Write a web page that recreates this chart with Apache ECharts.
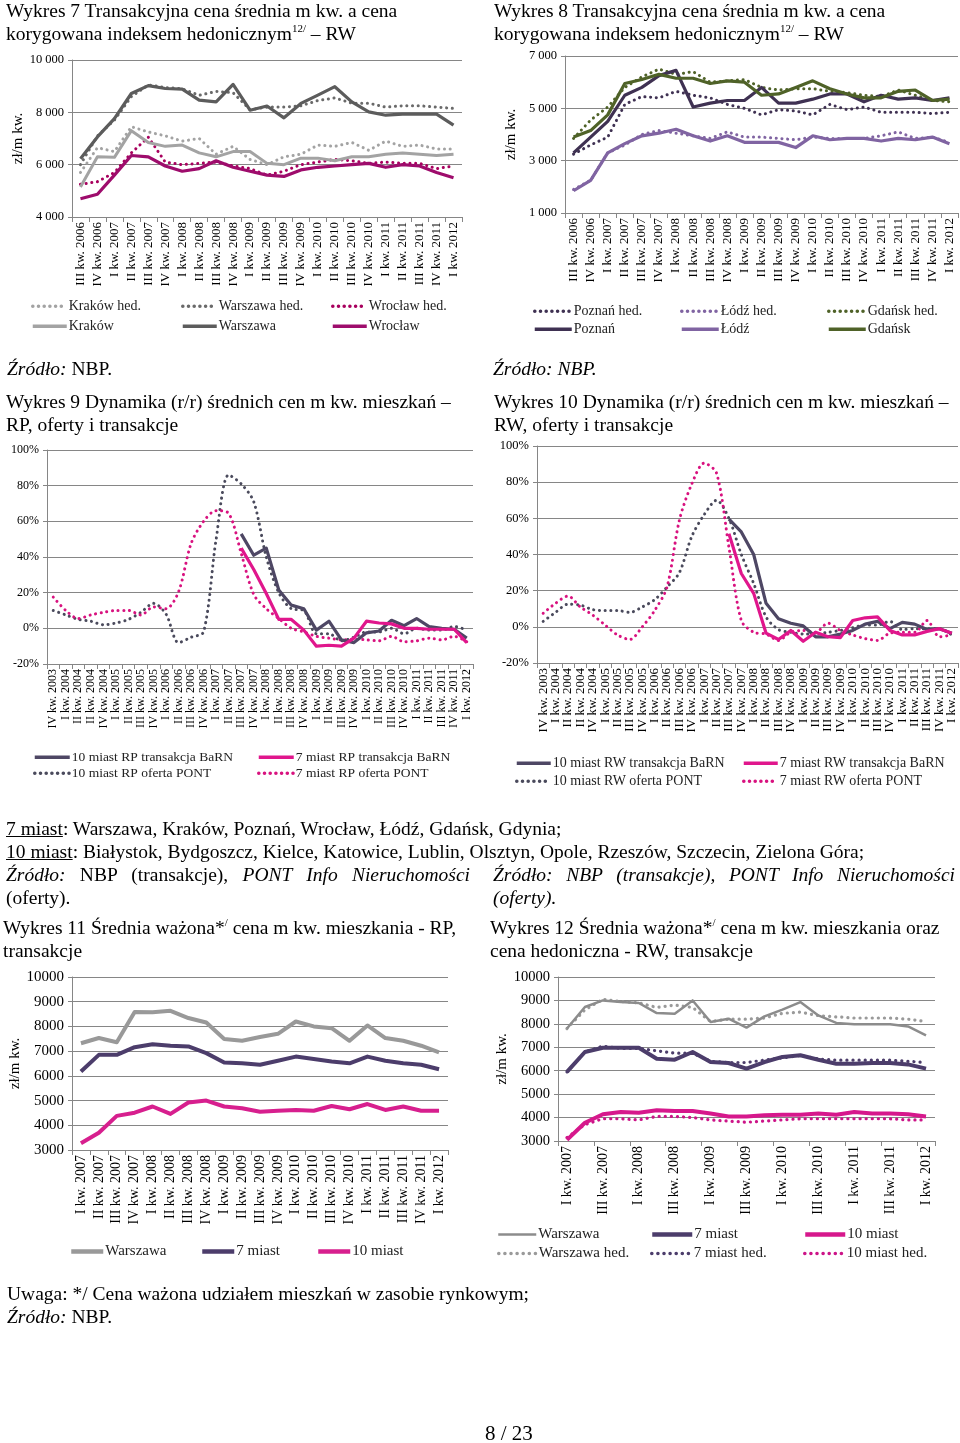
<!DOCTYPE html>
<html><head><meta charset="utf-8">
<script src="https://cdn.jsdelivr.net/npm/echarts@6/dist/echarts.min.js"></script>
<style>
html,body{margin:0;padding:0;background:#fff;}
#page{position:relative;width:960px;height:1443px;overflow:hidden;font-family:"Liberation Serif","Times New Roman",serif;color:#000;}
#chart{position:absolute;left:0;top:0;width:960px;height:1443px;}
.t{position:absolute;font-size:19.5px;line-height:23px;white-space:nowrap;}
.t sup{font-size:11px;line-height:0;vertical-align:8px;}
.j{white-space:normal;text-align:justify;text-align-last:justify;}
i{font-style:italic;}
</style></head>
<body><div id="page"><div id="chart"></div>
<div class="t" style="left:6px;top:-1px">Wykres 7 Transakcyjna cena średnia m kw. a cena<br>korygowana indeksem hedonicznym<sup>12/</sup> – RW</div>
<div class="t" style="left:494px;top:-1px">Wykres 8 Transakcyjna cena średnia m kw. a cena<br>korygowana indeksem hedonicznym<sup>12/</sup> – RW</div>
<div class="t" style="left:7px;top:357px"><i>Źródło:</i> NBP.</div>
<div class="t" style="left:493px;top:357px"><i>Źródło: NBP.</i></div>
<div class="t" style="left:6px;top:390px">Wykres 9 Dynamika (r/r) średnich cen m kw. mieszkań –<br>RP, oferty i transakcje</div>
<div class="t" style="left:494px;top:390px">Wykres 10 Dynamika (r/r) średnich cen m kw. mieszkań –<br>RW, oferty i transakcje</div>
<div class="t" style="left:6px;top:817px"><u>7 miast</u>: Warszawa, Kraków, Poznań, Wrocław, Łódź, Gdańsk, Gdynia;</div>
<div class="t" style="left:6px;top:840px"><u>10 miast</u>: Białystok, Bydgoszcz, Kielce, Katowice, Lublin, Olsztyn, Opole, Rzeszów, Szczecin, Zielona Góra;</div>
<div class="t j" style="left:6px;top:863px;width:464px"><i>Źródło:</i> NBP (transakcje), <i>PONT Info Nieruchomości</i></div>
<div class="t" style="left:6px;top:886px">(oferty).</div>
<div class="t j" style="left:493px;top:863px;width:462px"><i>Źródło: NBP (transakcje), PONT Info Nieruchomości</i></div>
<div class="t" style="left:493px;top:886px"><i>(oferty).</i></div>
<div class="t" style="left:3px;top:916px">Wykres 11 Średnia ważona*<sup>/</sup> cena m kw. mieszkania - RP,<br>transakcje</div>
<div class="t" style="left:490px;top:916px">Wykres 12 Średnia ważona*<sup>/</sup> cena m kw. mieszkania oraz<br>cena hedoniczna - RW, transakcje</div>
<div class="t" style="left:7px;top:1282px">Uwaga: */ Cena ważona udziałem mieszkań w zasobie rynkowym;<br><i>Źródło:</i> NBP.</div>
<div class="t" style="left:485px;top:1422px;font-size:21px">8 / 23</div>
</div>
<script>
// ---------- categories ----------
const cats7 = ['III kw. 2006','IV kw. 2006','I kw. 2007','II kw. 2007','III kw. 2007','IV kw. 2007','I kw. 2008','II kw. 2008','III kw. 2008','IV kw. 2008','I kw. 2009','II kw. 2009','III kw. 2009','IV kw. 2009','I kw. 2010','II kw. 2010','III kw. 2010','IV kw. 2010','I kw. 2011','II kw. 2011','III kw. 2011','IV kw. 2011','I kw. 2012'];
const cats9 = ['IV kw. 2003','I kw. 2004','II kw. 2004','II kw. 2004','IV kw. 2004','I kw. 2005','II kw. 2005','III kw. 2005','IV kw. 2005','I kw. 2006','II kw. 2006','III kw. 2006','IV kw. 2006','I kw. 2007','II kw. 2007','III kw. 2007','IV kw. 2007','I kw. 2008','II kw. 2008','III kw. 2008','IV kw. 2008','I kw. 2009','II kw. 2009','III kw. 2009','IV kw. 2009','I kw. 2010','II kw. 2010','III kw. 2010','IV kw. 2010','I kw. 2011','II kw. 2011','III kw. 2011','IV kw. 2011','I kw. 2012'];
const cats11 = ['I kw. 2007','II kw. 2007','III kw. 2007','IV kw. 2007','I kw. 2008','II kw. 2008','III kw. 2008','IV kw. 2008','I kw. 2009','II kw. 2009','III kw. 2009','IV kw. 2009','I kw. 2010','II kw. 2010','III kw. 2010','IV kw. 2010','I kw. 2011','II kw. 2011','III kw. 2011','IV kw. 2011','I kw. 2012'];

// ---------- Wykres 7 ----------
const krakowHed7 = [5700,6650,6500,7450,7250,7100,6900,7000,6400,6700,6200,6000,6300,6400,6750,6700,6850,6550,6900,6700,6750,6600,6600];
const warszawaHed7 = [6000,7100,7700,8600,9050,8950,8900,8650,8800,8750,8100,8200,8200,8250,8450,8550,8350,8350,8200,8250,8250,8200,8150];
const wroclawHed7 = [5250,5350,5700,6450,7050,6100,6000,6050,6100,5950,5850,5600,5750,6000,6100,6200,6150,6050,6100,6050,6050,5850,5950];
const krakow7 = [5150,6300,6280,7300,6850,6700,6750,6450,6300,6500,6500,6050,6000,6250,6250,6150,6300,6300,6400,6450,6400,6350,6400];
const warszawa7 = [6230,7060,7760,8720,9020,8910,8890,8470,8400,9070,8080,8240,7790,8340,8660,8980,8400,8020,7890,7930,7930,7930,7510];
const wroclaw7 = [4700,4870,5600,6350,6300,5950,5750,5850,6150,5900,5750,5600,5550,5800,5900,5950,6000,6050,5900,6000,5950,5700,5500];

// ---------- Wykres 8 ----------
const poznanHed8 = [3250,3600,3900,5150,5450,5400,5650,5500,5400,5150,5000,4750,4950,4900,4750,5150,4950,5050,4850,4850,4850,4800,4850];
const lodzHed8 = [1900,2250,3300,3600,4000,4150,4050,3950,3850,4100,3900,3900,3850,3800,3900,3850,3850,3850,3950,4100,3850,3900,3700];
const gdanskHed8 = [3850,4550,5050,5800,6200,6500,6300,6400,6000,6050,6100,5800,5700,5750,5750,5650,5600,5500,5450,5700,5500,5300,5250];
const poznan8 = [3300,3900,4500,5500,5800,6250,6450,5050,5200,5300,5300,5800,5200,5200,5350,5550,5550,5250,5500,5350,5400,5300,5400];
const lodz8 = [1850,2250,3300,3650,3950,4050,4200,3950,3750,3950,3700,3700,3700,3500,3950,3800,3850,3850,3750,3850,3800,3900,3650];
const gdansk8 = [3900,4150,4750,5950,6100,6300,6150,6150,5950,6050,6000,5500,5550,5800,6050,5750,5550,5400,5400,5650,5700,5300,5350];

// ---------- Wykres 9 (%) ----------
const trans10_9 = [null,null,null,null,null,null,null,null,null,null,null,null,null,null,null,53,41,45,21.5,13,11,-1,4,-6.5,-8,-2.5,-1.5,4.5,1.5,5.5,1,0,-0.5,-5.5];
const trans7_9 = [null,null,null,null,null,null,null,null,null,null,null,null,null,null,null,45,33,19.5,5,5,-1,-10,-9.5,-10,-5.5,4,3,2.5,0,0,-0.5,-0.5,-0.5,-8];
const oferta10_9 = [10,7.5,5,4,2,3,5,9,14,8,-8,-5,-2,50,86,81,71,40,20,11,10,-3,-3,-7,-5,-2,-2,0,-3,0,-1,-1,1,-1];
const oferta7_9 = [17.5,10,5.5,7.5,9,10,10,7.5,12,11,20.5,47.5,60,66,64.5,42,19,11,5.5,0,-2,-4.5,-5.5,-6.5,-6,-6.5,-7,-4.5,-7.5,-7,-5.5,-6.5,-4.5,-7.5];

// ---------- Wykres 10 (%) ----------
const trans10_10 = [null,null,null,null,null,null,null,null,null,null,null,null,null,null,null,59.5,52.5,40,13,4.5,2,0.5,-5.5,-5.5,-4,-2,1.5,3,-1,2.5,1.5,-1.5,-1,-3.5];
const trans7_10 = [null,null,null,null,null,null,null,null,null,null,null,null,null,null,null,51.5,29.5,18.5,-3.5,-7,-2,-8,-3,-5.5,-6,3.5,5,5.5,-2,-4.5,-4.5,-2.5,-1,-3.5];
const oferta10_10 = [3,8,12.5,12,9.5,9,9,8,11,15,22,30,50,62,70,60,40,24,5.5,-1.5,-3,-4,-4,-3,-2,-0.5,1,1,3,-1.5,-1,-1,-1,-4.5];
const oferta7_10 = [7.5,13,17,11,6.5,1,-4.5,-7,0,9,22,59,79,90.5,85,44,3.5,-3,-4,-7.5,-3,-2,-3,2,-2,-4.5,-6.5,-7.5,-3.5,-3,-3,3.5,-5.5,-4.5];

// ---------- Wykres 11 ----------
const warszawa11 = [7320,7530,7360,8580,8570,8630,8340,8160,7490,7420,7570,7700,8200,8000,7930,7420,8040,7530,7420,7220,6950];
const miast7_11 = [6180,6850,6850,7160,7280,7220,7190,6920,6540,6510,6450,6610,6780,6680,6580,6510,6780,6610,6510,6450,6270];
const miast10_11 = [3270,3700,4380,4510,4760,4460,4920,5000,4760,4690,4550,4590,4620,4590,4780,4650,4860,4620,4760,4590,4590];

// ---------- Wykres 12 ----------
const warszawa12 = [7800,8720,9000,8930,8890,8460,8430,9000,8080,8220,7840,8320,8610,8930,8360,8040,7980,7980,7980,7890,7510];
const warszawaHed12 = [7800,8600,9050,8950,8900,8700,8800,8700,8100,8200,8200,8250,8450,8500,8350,8300,8250,8250,8250,8200,8100];
const miast7_12 = [5950,6800,6980,6980,6980,6510,6470,6800,6370,6330,6090,6370,6590,6660,6470,6300,6300,6330,6330,6270,6090];
const miast7Hed12 = [5950,6800,7050,6950,6950,6850,6750,6750,6400,6350,6350,6450,6550,6650,6500,6450,6450,6450,6450,6400,6350];
const miast10_12 = [3050,3780,4140,4240,4210,4310,4280,4280,4170,4050,4050,4100,4120,4120,4170,4120,4240,4170,4170,4140,4050];
const miast10Hed12 = [3150,3700,3950,3950,3900,4050,4050,4000,3900,3850,3800,3850,3900,3950,3950,3950,3950,3950,3950,3900,3900];

// ---------- helpers ----------
const FF = '"Liberation Serif","Times New Roman",serif';
const AX = '#868686';
const sp = v => String(v).replace(/\B(?=(\d{3})+(?!\d))/g, ' ');
const pct = v => v + '%';
const plain = v => String(v);

function grid(l, t, w, h) { return {left: l, top: t, width: w, height: h, containLabel: false}; }
function xAx(gi, cats, fs, interval) {
  return {type: 'category', gridIndex: gi, data: cats, boundaryGap: true,
    axisLine: {onZero: false, lineStyle: {color: AX, width: 1}},
    axisTick: {show: true, length: 5, interval: interval, lineStyle: {color: AX}},
    axisLabel: {rotate: 90, interval: interval, fontSize: fs, fontFamily: FF, color: '#000', margin: 5},
    splitLine: {show: false}};
}
function yAx(gi, min, max, step, fmt, fs, name, gap) {
  return {type: 'value', gridIndex: gi, min: min, max: max, interval: step,
    axisLine: {show: true, lineStyle: {color: AX, width: 1}},
    axisTick: {show: true, length: 4, lineStyle: {color: AX}},
    splitLine: {show: true, lineStyle: {color: AX, width: 1}},
    axisLabel: {formatter: fmt, fontSize: fs, fontFamily: FF, color: '#000', margin: 8},
    name: name || '', nameLocation: 'middle', nameRotate: 90, nameGap: gap || 0,
    nameTextStyle: {fontFamily: FF, fontSize: 15, color: '#000'}};
}
const series = [];
const labels = {};
const lineW = {};
function ln(id, label, gi, data, color, width, dotted, smooth, z) {
  series.push({type: 'line', name: id, xAxisIndex: gi, yAxisIndex: gi, data: data,
    symbol: 'none', smooth: smooth || false, connectNulls: false, z: z || 2,
    lineStyle: {color: color, width: width, type: dotted ? [0.1, dotted] : 'solid', cap: dotted ? 'round' : 'butt', join: 'round'},
    itemStyle: {color: color}});
  labels[id] = label;
  lineW[id] = dotted ? [0.1, dotted] : 'solid';
}
const legends = [];
function lg(id, left, cy, w, fs, lw) {
  legends.push({data: [id], left: left, top: cy - 9, itemWidth: w, itemHeight: 18, itemGap: 0, padding: 0,
    selectedMode: false, formatter: n => labels[n],
    itemStyle: {opacity: 0, borderWidth: 0},
    lineStyle: {width: lw || 3.5, type: lineW[id], cap: Array.isArray(lineW[id]) ? 'round' : 'butt'},
    textStyle: {fontFamily: FF, fontSize: fs, color: '#222', padding: [0, 0, 0, -3]}});
}

// colors
const C7 = {kr: '#a3a3a3', wa: '#5c5c5c', wr: '#9e0c6c', wrh: '#a8005e'};
const C8 = {po: '#3f3152', lo: '#8064a2', gd: '#4f6228'};
const C9 = {d: '#4e4764', dd: '#4a4a5c', m: '#e0168c', md: '#d8127f'};
const C11 = {wa: '#999999', m7: '#4c3d6b', m10: '#d71f8e'};

// Wykres 7 (grid 0)
ln('a1', 'Kraków hed.', 0, krakowHed7, C7.kr, 3, 5.6);
ln('a2', 'Warszawa hed.', 0, warszawaHed7, '#6a6a6a', 3, 5.6);
ln('a3', 'Wrocław hed.', 0, wroclawHed7, C7.wrh, 3, 5.6);
ln('a4', 'Kraków', 0, krakow7, C7.kr, 3);
ln('a5', 'Warszawa', 0, warszawa7, C7.wa, 3.2);
ln('a6', 'Wrocław', 0, wroclaw7, C7.wr, 3.2);
lg('a1', 31, 308, 34, 14); lg('a2', 181, 308, 34, 14); lg('a3', 331, 308, 34, 14);
lg('a4', 31, 328, 34, 14); lg('a5', 181, 328, 34, 14); lg('a6', 331, 328, 34, 14);

// Wykres 8 (grid 1)
ln('b1', 'Poznań hed.', 1, poznanHed8, C8.po, 3, 5.6);
ln('b2', 'Łódź hed.', 1, lodzHed8, C8.lo, 3, 5.6);
ln('b3', 'Gdańsk hed.', 1, gdanskHed8, C8.gd, 3, 5.6);
ln('b4', 'Poznań', 1, poznan8, C8.po, 3.2);
ln('b5', 'Łódź', 1, lodz8, C8.lo, 3.2);
ln('b6', 'Gdańsk', 1, gdansk8, C8.gd, 3.2);
lg('b1', 533, 313, 37, 14); lg('b2', 680, 313, 37, 14); lg('b3', 827, 313, 37, 14);
lg('b4', 533, 331, 37, 14); lg('b5', 680, 331, 37, 14); lg('b6', 827, 331, 37, 14);

// Wykres 9 (grid 2)
ln('c3', '10 miast RP oferta PONT', 2, oferta10_9, C9.dd, 3, 5.6, 0.3);
ln('c4', '7 miast RP oferta PONT', 2, oferta7_9, C9.md, 3, 5.6, 0.3);
ln('c1', '10 miast RP transakcja BaRN', 2, trans10_9, C9.d, 3.2, 0, false, 3);
ln('c2', '7 miast RP transakcja BaRN', 2, trans7_9, C9.m, 3.2, 0, false, 3);
lg('c1', 33, 759, 35, 13.5); lg('c2', 257, 759, 35, 13.5);
lg('c3', 33, 775, 35, 13.5); lg('c4', 257, 775, 35, 13.5);

// Wykres 10 (grid 3)
ln('d3', '10 miast RW oferta PONT', 3, oferta10_10, C9.dd, 3, 5.6, 0.3);
ln('d4', '7 miast RW oferta PONT', 3, oferta7_10, C9.md, 3, 5.6, 0.3);
ln('d1', '10 miast RW transakcja BaRN', 3, trans10_10, C9.d, 3.2, 0, false, 3);
ln('d2', '7 miast RW transakcja BaRN', 3, trans7_10, C9.m, 3.2, 0, false, 3);
lg('d1', 515, 765, 34, 14); lg('d2', 742, 765, 34, 14);
lg('d3', 515, 783, 34, 14); lg('d4', 742, 783, 34, 14);

// Wykres 11 (grid 4)
ln('e1', 'Warszawa', 4, warszawa11, C11.wa, 4);
ln('e2', '7 miast', 4, miast7_11, C11.m7, 4);
ln('e3', '10 miast', 4, miast10_11, C11.m10, 4);
lg('e1', 69, 1253, 32, 15, 4.5); lg('e2', 200, 1253, 32, 15, 4.5); lg('e3', 316, 1253, 32, 15, 4.5);

// Wykres 12 (grid 5)
ln('f4', 'Warszawa hed.', 5, warszawaHed12, '#9a9a9a', 3.2, 6);
ln('f5', '7 miast hed.', 5, miast7Hed12, C11.m7, 3.2, 6);
ln('f6', '10 miast hed.', 5, miast10Hed12, '#cc1488', 3.2, 6);
ln('f1', 'Warszawa', 5, warszawa12, '#8c8c8c', 2.5, 0, false, 3);
ln('f2', '7 miast', 5, miast7_12, C11.m7, 4, 0, false, 3);
ln('f3', '10 miast', 5, miast10_12, '#d6188c', 4, 0, false, 3);
lg('f1', 497, 1236, 38, 15, 2.5); lg('f2', 650, 1236, 40, 15, 4.5); lg('f3', 803, 1236, 40, 15, 4.5);
lg('f4', 497, 1255, 38, 15, 3.5); lg('f5', 650, 1255, 40, 15, 3.5); lg('f6', 803, 1255, 40, 15, 3.5);

const option = {
  animation: false,
  backgroundColor: 'transparent',
  grid: [grid(72, 60, 390, 157), grid(565, 56, 393, 157), grid(47, 450, 426, 214), grid(537, 446, 421, 217), grid(72, 977, 376, 173), grid(558, 977, 377, 164)],
  xAxis: [xAx(0, cats7, 13, 0), xAx(1, cats7, 13, 0), xAx(2, cats9, 12, 0), xAx(3, cats9, 13, 0), xAx(4, cats11, 14, 0), xAx(5, cats11, 14, 1)],
  yAxis: [
    yAx(0, 4000, 10000, 2000, sp, 12.5, 'zł/m kw.', 46),
    yAx(1, 1000, 7000, 2000, sp, 12.5, 'zł/m kw.', 46),
    yAx(2, -20, 100, 20, pct, 12),
    yAx(3, -20, 100, 20, pct, 12.5),
    yAx(4, 3000, 10000, 1000, plain, 15, 'zł/m kw.', 47),
    yAx(5, 3000, 10000, 1000, plain, 14.5, 'zł/m kw.', 43)
  ],
  legend: legends,
  series: series
};
const chart = echarts.init(document.getElementById('chart'), null, {renderer: 'canvas'});
chart.setOption(option);
</script>
</body></html>
